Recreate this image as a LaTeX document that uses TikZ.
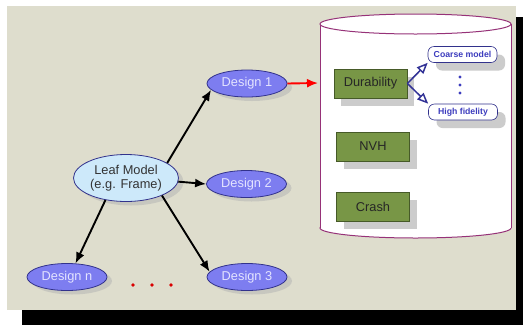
\documentclass[tikz,border=0pt]{standalone}
\usepackage{fontspec}
\setmainfont{Liberation Sans}
\usetikzlibrary{arrows.meta,shapes.geometric,shadows}
\definecolor{bg}{RGB}{222,221,205}
\definecolor{dfill}{RGB}{125,125,240}
\definecolor{dline}{RGB}{50,50,140}
\definecolor{dtext}{RGB}{228,228,255}
\definecolor{leaffill}{RGB}{205,233,250}
\definecolor{gfill}{RGB}{120,150,70}
\definecolor{gline}{RGB}{70,90,40}
\definecolor{cylline}{RGB}{150,50,120}
\definecolor{bluearr}{RGB}{50,50,150}
\definecolor{subtext}{RGB}{60,60,190}
\begin{document}
\begin{tikzpicture}[x=1pt,y=-1pt,
  design/.style={ellipse, draw=dline, line width=0.8pt, fill=dfill, text=dtext,
    minimum width=80pt, minimum height=27pt, inner sep=0pt, font=\fontsize{12.8}{14}\selectfont,
    drop shadow={shadow xshift=5pt, shadow yshift=-4pt, fill=gray!60, opacity=0.5}},
  leaf/.style={ellipse, draw=dline, line width=0.8pt, fill=leaffill, text=black!80,
    minimum width=105pt, minimum height=47pt, inner sep=0pt, align=center,
    font=\fontsize{12.8}{14.5}\selectfont,
    drop shadow={shadow xshift=5pt, shadow yshift=-4pt, fill=gray!60, opacity=0.5}},
  gbox/.style={rectangle, draw=gline, line width=0.8pt, fill=gfill, text=black!85,
    minimum width=73pt, minimum height=29pt, inner sep=0pt, font=\fontsize{12.8}{14}\selectfont,
    drop shadow={shadow xshift=7pt, shadow yshift=-8pt, fill=gray!40, opacity=1}},
  sub/.style={rectangle, rounded corners=6pt, draw=dline, line width=0.6pt, fill=white,
    text=subtext, minimum width=69pt, minimum height=16pt, inner sep=0pt,
    font=\fontsize{8.7}{10}\selectfont\bfseries,
    drop shadow={shadow xshift=8pt, shadow yshift=-8pt, fill=gray!40, opacity=1}},
  arr/.style={-{Latex[length=11pt,width=9pt]}, line width=1.9pt, black},
  oarr/.style={-{Triangle[open,length=11pt,width=9pt]}, line width=1.5pt, bluearr}
]
\useasboundingbox (0,0) rectangle (530,325);
% frame shadow and background
\fill[black] (22,17) rectangle (523,325);
\fill[bg] (7,6) rectangle (516,310);
% cylinder
\fill[white] (320,24) rectangle (511,228);
\draw[cylline, line width=1pt, fill=white] (415.5,228) ellipse[x radius=95.5, y radius=10];
\fill[white] (320.5,24) rectangle (510.5,228);
\draw[cylline, line width=1pt] (320,24) -- (320,228);
\draw[cylline, line width=1pt] (511,24) -- (511,228);
\draw[cylline, line width=1pt, fill=white] (415.5,24) ellipse[x radius=95.5, y radius=10];
\coordinate (cylL) at (318,83);
% nodes
\node[leaf] (leaf) at (126,178) {Leaf Model\\(e.g. Frame)};
\node[design] (d1) at (247,83.5) {Design 1};
\node[design] (d2) at (246.5,184) {Design 2};
\node[design] (d3) at (247,277) {Design 3};
\node[design] (dn) at (67,277) {Design n};
\node[gbox] (dur) at (370.5,83.5) {Durability};
\node[gbox] (nvh) at (373,146.5) {NVH};
\node[gbox] (crash) at (373,206.5) {Crash};
\node[sub] (coarse) at (462.5,54.5) {Coarse model};
\node[sub] (hifi) at (463,112) {High fidelity};
% dots
\foreach \yy in {77,85,93}
  \fill[subtext] (460,\yy) circle[radius=1.7];
\foreach \xx in {133,152,171}
  \fill[red!85!black] (\xx,285) circle[radius=1.9];
% connectors
\draw[arr] (leaf.20) -- (d1.190);
\draw[arr] (leaf.-4) -- (d2.west);
\draw[arr] (leaf.-26) -- (d3.172);
\draw[arr] (leaf.-133) -- (dn.58);
\draw[-{Latex[length=11pt,width=9pt]}, line width=1.9pt, red] (d1.east) -- (cylL);
\draw[oarr] (dur.east) -- (coarse.south west);
\draw[oarr] (dur.east) -- (hifi.north west);
\end{tikzpicture}
\end{document}
